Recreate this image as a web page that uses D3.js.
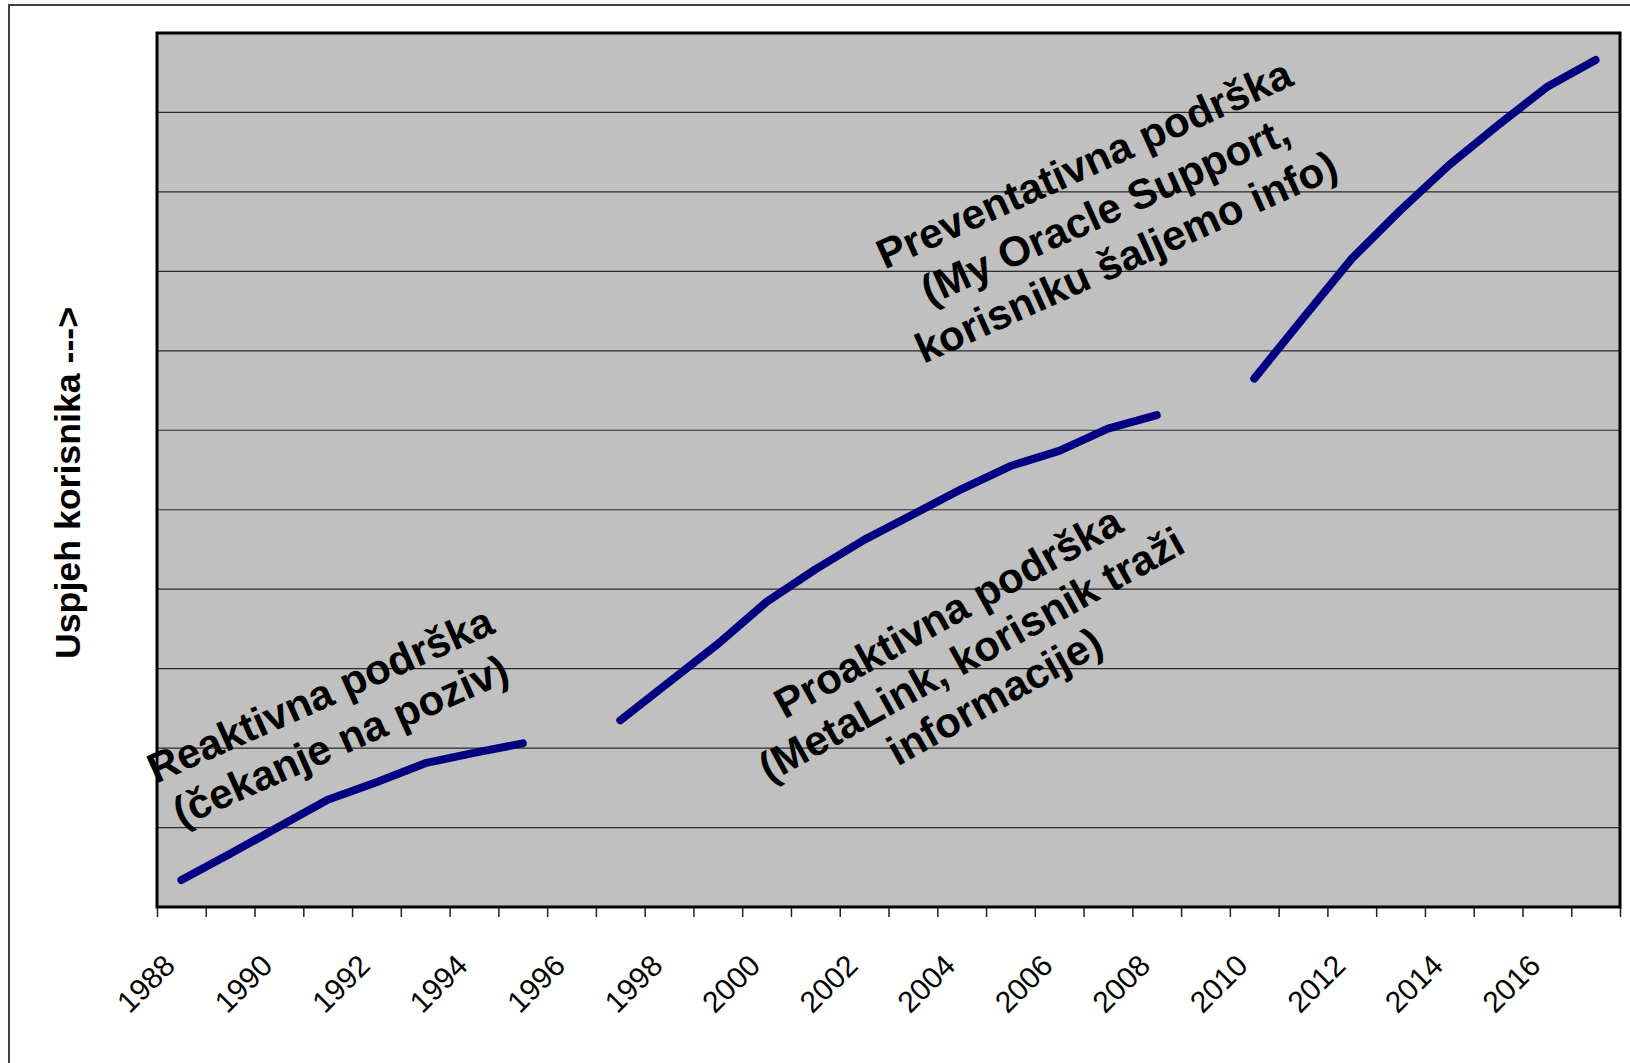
<!DOCTYPE html>
<html>
<head>
<meta charset="utf-8">
<script src="https://cdn.jsdelivr.net/npm/d3@7"></script>
<style>
  html, body { margin: 0; padding: 0; background: #fff; }
  svg { display: block; }
  text { font-family: "Liberation Sans", Arial, sans-serif; }
</style>
</head>
<body>
<svg id="chart" width="1630" height="1063"></svg>
<script>
// ---- data ----
const years = ["1988","1989","1990","1991","1992","1993","1994","1995","1996","1997",
               "1998","1999","2000","2001","2002","2003","2004","2005","2006","2007",
               "2008","2009","2010","2011","2012","2013","2014","2015","2016","2017"];
const tickLabels = ["1988","1990","1992","1994","1996","1998","2000","2002","2004",
                    "2006","2008","2010","2012","2014","2016"];

const reaktivnaYears  = ["1988","1989","1990","1991","1992","1993","1994","1995"];
const reaktivnaValues = [0.34, 0.67, 1.01, 1.35, 1.57, 1.81, 1.94, 2.06];

const proaktivnaYears  = ["1997","1998","1999","2000","2001","2002","2003","2004","2005","2006","2007","2008"];
const proaktivnaValues = [2.35, 2.83, 3.31, 3.84, 4.25, 4.62, 4.94, 5.26, 5.55, 5.74, 6.02, 6.19];

const preventivnaYears  = ["2010","2011","2012","2013","2014","2015","2016","2017"];
const preventivnaValues = [6.65, 7.41, 8.16, 8.77, 9.34, 9.84, 10.32, 10.66];

const yTitle = "Uspjeh korisnika --->";
const annotReaktivna  = ["Reaktivna podrška", "(čekanje na poziv)"];
const annotProaktivna = ["Proaktivna podrška", "(MetaLink, korisnik traži", "informacije)"];
const annotPreventivna = ["Preventativna podrška", "(My Oracle Support,", "korisniku šaljemo info)"];

// ---- layout ----
const svg = d3.select("#chart");
const plot = { left: 157, right: 1620, top: 33, bottom: 907 };

const x = d3.scaleBand().domain(years).range([plot.left, plot.right]).padding(0);
const xEdge = d3.scaleLinear().domain([0, years.length]).range([plot.left, plot.right]);
const y = d3.scaleLinear().domain([0, 11]).range([plot.bottom, plot.top]);

// outer frame
svg.append("rect")
  .attr("x", 9).attr("y", 5).attr("width", 1640).attr("height", 1080)
  .attr("fill", "none").attr("stroke", "#404040").attr("stroke-width", 2);

// plot background
svg.append("rect")
  .attr("x", plot.left).attr("y", plot.top)
  .attr("width", plot.right - plot.left).attr("height", plot.bottom - plot.top)
  .attr("fill", "#c0c0c0");

// gridlines
svg.append("g")
  .selectAll("line")
  .data(y.ticks(11).filter(d => d > 0 && d < 11))
  .join("line")
  .attr("x1", plot.left).attr("x2", plot.right)
  .attr("y1", d => y(d)).attr("y2", d => y(d))
  .attr("stroke", "#2a2a2a").attr("stroke-width", 1.2);

// tick marks at category boundaries
const tickAxis = svg.append("g")
  .attr("transform", `translate(0,${plot.bottom})`)
  .call(d3.axisBottom(xEdge).tickValues(d3.range(0, years.length + 1))
        .tickFormat("").tickSize(10).tickSizeOuter(0));
tickAxis.select(".domain").remove();
tickAxis.selectAll("line").attr("stroke", "#222").attr("stroke-width", 1.5);

// category labels
const labelAxis = svg.append("g")
  .attr("transform", `translate(0,${plot.bottom})`)
  .call(d3.axisBottom(x).tickValues(tickLabels).tickSize(0).tickSizeOuter(0));
labelAxis.select(".domain").remove();
labelAxis.selectAll("text")
  .attr("x", 0).attr("y", 0).attr("dy", "0.35em")
  .attr("transform", "translate(-12,53) rotate(-45)")
  .attr("text-anchor", "end")
  .attr("font-size", 30)
  .attr("fill", "#000")
  .style("font-family", "'Liberation Sans', Arial, sans-serif");

// plot border
svg.append("rect")
  .attr("x", plot.left).attr("y", plot.top)
  .attr("width", plot.right - plot.left).attr("height", plot.bottom - plot.top)
  .attr("fill", "none").attr("stroke", "#000").attr("stroke-width", 3);

// lines
const line = d3.line()
  .x(d => x(d[0]) + x.bandwidth() / 2)
  .y(d => y(d[1]));

[[reaktivnaYears, reaktivnaValues],
 [proaktivnaYears, proaktivnaValues],
 [preventivnaYears, preventivnaValues]].forEach(([ys, vs]) => {
  svg.append("path")
    .datum(ys.map((yr, i) => [yr, vs[i]]))
    .attr("d", line)
    .attr("fill", "none")
    .attr("stroke", "#000080")
    .attr("stroke-width", 8)
    .attr("stroke-linecap", "round")
    .attr("stroke-linejoin", "round");
});

// annotations
function annot(lines, cx, cy, angle, spacing) {
  const t = svg.append("text")
    .attr("transform", `translate(${cx},${cy}) rotate(${-angle})`)
    .attr("text-anchor", "middle")
    .attr("font-size", 42)
    .attr("font-weight", "bold")
    .attr("fill", "#000");
  lines.forEach((s, i) => {
    t.append("tspan").attr("x", 0).attr("y", i * spacing).text(s);
  });
}
annot(annotReaktivna, 326, 708, 24, 50);
annot(annotProaktivna, 955, 625, 29, 48);
annot(annotPreventivna, 1090, 177, 24.3, 51);

// y title
svg.append("text")
  .attr("transform", `translate(80,483) rotate(-90)`)
  .attr("text-anchor", "middle")
  .attr("font-size", 35.7)
  .attr("font-weight", "bold")
  .attr("fill", "#000")
  .text(yTitle);
</script>
</body>
</html>
